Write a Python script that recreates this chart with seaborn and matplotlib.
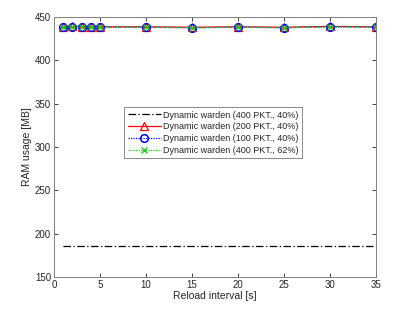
import numpy as np
import pandas as pd
import matplotlib
matplotlib.use("Agg")
import matplotlib.pyplot as plt
import seaborn as sns

# reload interval [s]
intervals = [1, 2, 3, 4, 5, 10, 15, 20, 25, 30, 35]

# RAM usage [MB] per configuration
ram_400_40 = [186, 186, 186, 186, 186, 186, 186, 186, 186, 186, 186]
ram_200_40 = [438.5, 439, 438.5, 438.5, 438.5, 438.5, 438, 438.5, 438, 439, 438.5]
ram_100_40 = [438, 438.5, 438, 438, 438, 438, 437.5, 438, 437.5, 438.5, 438]
ram_400_62 = [438, 438.5, 438, 438, 438, 438, 437.5, 438, 437.5, 438.5, 438]

labels = ["Dynamic warden (400 PKT., 40%)",
          "Dynamic warden (200 PKT., 40%)",
          "Dynamic warden (100 PKT., 40%)",
          "Dynamic warden (400 PKT., 62%)"]

sns.set_theme(style="white")
plt.rcParams['font.family'] = ['Liberation Sans', 'DejaVu Sans']

fig = plt.figure(figsize=(4.15, 3.12), dpi=100)
ax = fig.add_axes([0.130, 0.112, 0.776, 0.834])

styles = [
    dict(color="black", linestyle=(0, (6, 2, 1, 2)), marker=None),
    dict(color="red", linestyle="-", marker="^", markerfacecolor="none",
         markeredgecolor="red", markersize=5.5, markeredgewidth=0.9),
    dict(color="blue", linestyle=(0, (1, 1)), marker="o", markerfacecolor="none",
         markeredgecolor="blue", markersize=5.5, markeredgewidth=1.1),
    dict(color="#22cc22", linestyle=(0, (1, 1)), marker="x",
         markeredgecolor="#22cc22", markersize=4, markeredgewidth=1.0),
]

for vals, lab, st in zip([ram_400_40, ram_200_40, ram_100_40, ram_400_62], labels, styles):
    df = pd.DataFrame({"x": intervals, "y": vals})
    sns.lineplot(data=df, x="x", y="y", ax=ax, label=lab, linewidth=0.9, **st)

ax.set_xlim(0, 35)
ax.set_ylim(150, 450)
ax.set_xticks(range(0, 36, 5))
ax.set_yticks(range(150, 451, 50))
ax.set_xlabel("Reload interval [s]", fontsize=7.5, color="#262626", labelpad=1)
ax.set_ylabel("RAM usage [MB]", fontsize=7.5, color="#262626", labelpad=2)
ax.tick_params(direction="in", length=3, width=0.6, labelsize=7, colors="#262626",
               top=True, right=True, bottom=True, left=True, pad=2)
for sp in ax.spines.values():
    sp.set_color("#808080")
    sp.set_linewidth(0.7)

leg = ax.legend(loc="center", bbox_to_anchor=(0.495, 0.555), fontsize=6.5,
                frameon=True, fancybox=False, handlelength=3.6, borderpad=0.4,
                labelspacing=0.3, handletextpad=0.3)
leg.get_frame().set_edgecolor("#555555")
leg.get_frame().set_linewidth(0.6)

fig.savefig("out.png", dpi=100)
